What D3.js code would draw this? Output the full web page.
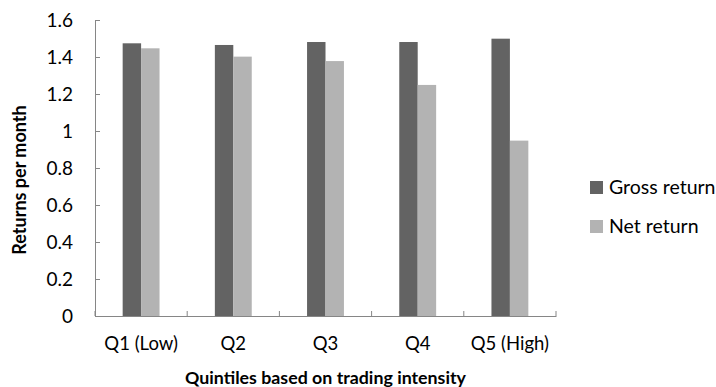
<!DOCTYPE html>
<html>
<head>
<meta charset="utf-8">
<script src="https://cdn.jsdelivr.net/npm/d3@7"></script>
<style>
  body { margin: 0; background: #fff; }
  text { font-family: Lato, "Open Sans", sans-serif; fill: #000; }
</style>
</head>
<body>
<div id="chart"></div>
<script>
// Data
const categories = ['Q1 (Low)', 'Q2', 'Q3', 'Q4', 'Q5 (High)'];
const seriesNames = ['Gross return', 'Net return'];
const grossReturn = [1.474, 1.465, 1.481, 1.481, 1.499];
const netReturn = [1.447, 1.402, 1.378, 1.249, 0.948];
const yTicks = [0, 0.2, 0.4, 0.6, 0.8, 1, 1.2, 1.4, 1.6];

const WIDTH = 716;
const HEIGHT = 387;
const MARGIN = { top: 20, right: 160, bottom: 71, left: 95 };
const colors = ['#636363', '#b3b3b3'];

const svg = d3.select('#chart')
  .append('svg')
  .attr('width', WIDTH)
  .attr('height', HEIGHT);

// Scales
const x = d3.scaleBand()
  .domain(categories)
  .range([MARGIN.left, WIDTH - MARGIN.right]);

// gap width 150% of a bar pair -> 1.5 bars of padding on each side
const x1 = d3.scaleBand()
  .domain(seriesNames)
  .range([0, x.bandwidth()])
  .paddingOuter(1.5);

const y = d3.scaleLinear()
  .domain([0, 1.6])
  .range([HEIGHT - MARGIN.bottom, MARGIN.top]);

const rows = categories.map((c, i) => ({ cat: c, values: [grossReturn[i], netReturn[i]] }));

// Bars
const group = svg.selectAll('.group')
  .data(rows)
  .join('g')
  .attr('class', 'group')
  .attr('transform', d => `translate(${x(d.cat)},0)`);

group.selectAll('rect')
  .data(d => d.values.map((v, i) => ({ name: seriesNames[i], value: v, i })))
  .join('rect')
  .attr('x', d => x1(d.name))
  .attr('width', x1.bandwidth())
  .attr('y', d => y(d.value))
  .attr('height', d => y(0) - y(d.value))
  .attr('fill', d => colors[d.i]);

// Y axis
const yAxis = svg.append('g')
  .attr('transform', `translate(${MARGIN.left},0)`)
  .call(d3.axisLeft(y).tickValues(yTicks).tickSize(-5).tickPadding(22).tickFormat(d3.format('')));
yAxis.select('.domain').attr('stroke', '#868686');
yAxis.selectAll('.tick line').attr('stroke', '#868686');
yAxis.selectAll('.tick text').attr('font-size', 19);

// X axis
const xAxis = svg.append('g')
  .attr('transform', `translate(0,${y(0)})`)
  .call(d3.axisBottom(x).tickSize(0).tickPadding(21));
xAxis.select('.domain').attr('stroke', '#868686');
xAxis.selectAll('.tick text').attr('font-size', 18.5);

// category separator ticks
const bounds = categories.map(c => x(c)).concat([x.range()[1]]);
svg.append('g')
  .selectAll('line')
  .data(bounds)
  .join('line')
  .attr('x1', d => d)
  .attr('x2', d => d)
  .attr('y1', y(0))
  .attr('y2', y(0) - 5)
  .attr('stroke', '#868686');

// Axis titles
svg.append('text')
  .attr('transform', `translate(26,180) rotate(-90)`)
  .attr('text-anchor', 'middle')
  .attr('font-size', 18)
  .attr('font-weight', 'bold')
  .text('Returns per month');

svg.append('text')
  .attr('x', (x.range()[0] + x.range()[1]) / 2)
  .attr('y', 384)
  .attr('text-anchor', 'middle')
  .attr('font-size', 17.8)
  .attr('font-weight', 'bold')
  .text('Quintiles based on trading intensity');

// Legend
const legend = svg.append('g')
  .selectAll('g')
  .data(seriesNames)
  .join('g')
  .attr('transform', (d, i) => `translate(590,${181 + i * 39})`);

legend.append('rect')
  .attr('width', 13)
  .attr('height', 13)
  .attr('fill', (d, i) => colors[i]);

legend.append('text')
  .attr('x', 19)
  .attr('y', 13)
  .attr('font-size', 19.5)
  .text(d => d);
</script>
</body>
</html>
